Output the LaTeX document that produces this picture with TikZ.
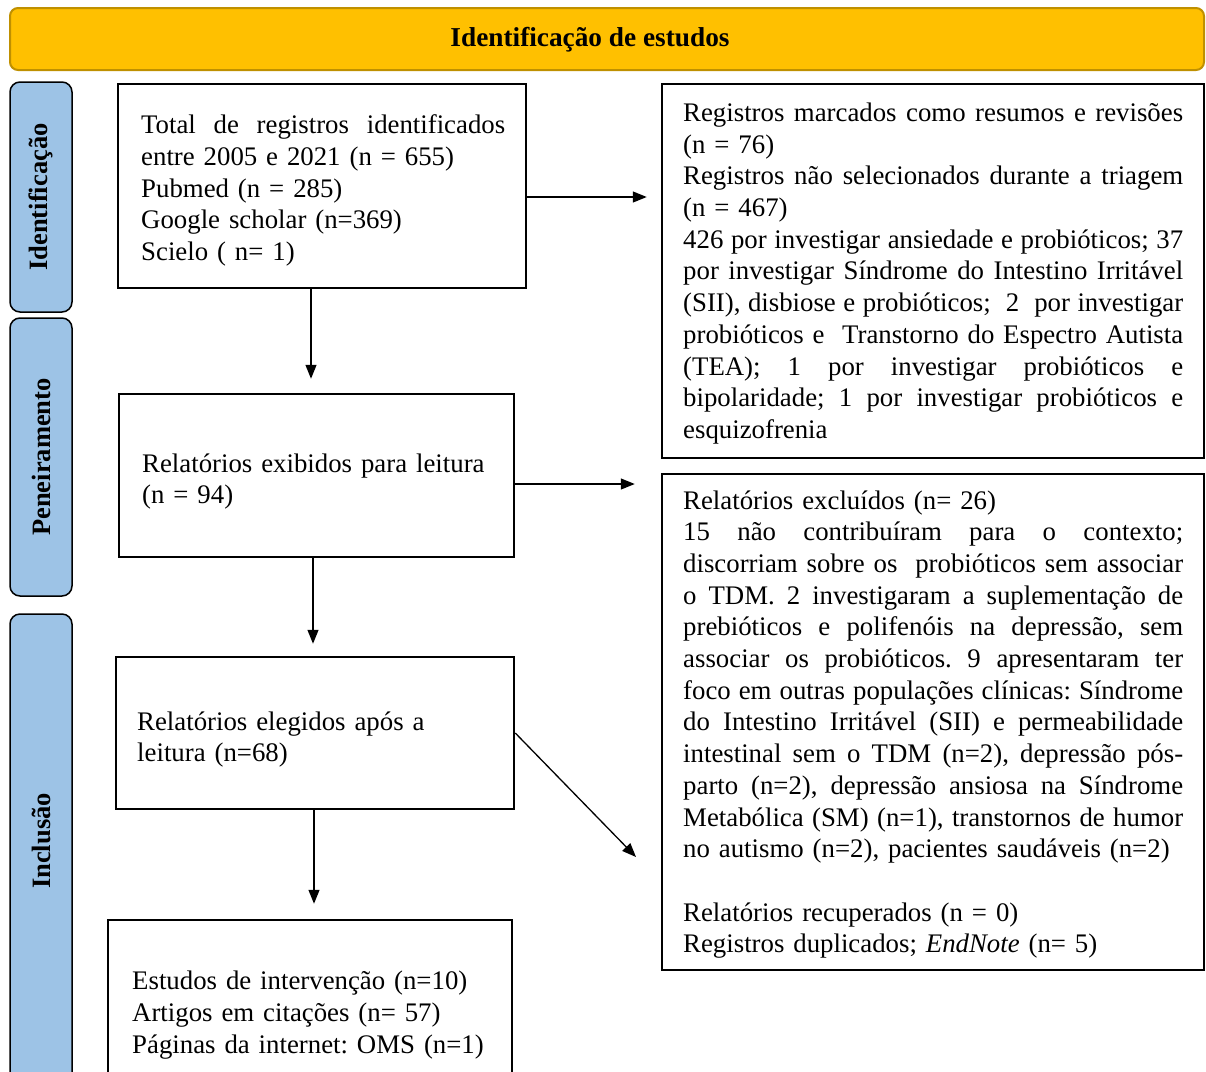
\documentclass[tikz,border=0pt]{standalone}
\usepackage{fontspec}
\setmainfont{Liberation Serif}
\usetikzlibrary{arrows.meta}
\definecolor{bannergold}{RGB}{255,192,0}
\definecolor{bannerdark}{RGB}{191,144,0}
\definecolor{sideblue}{RGB}{157,195,230}
\newcommand\txtsize{\fontsize{26.8}{31.7}\selectfont}
\newcommand\jline[2]{\leavevmode\hbox to #1{\spaceskip=0.25em plus 1fil\xspaceskip=0.25em plus 1fil\relax #2}}
\newcommand\nline[1]{\mbox{#1}}
\frenchspacing
\begin{document}
\begin{tikzpicture}[x=1pt,y=-1pt,
  flowbox/.style={draw, line width=2.5pt, rectangle, inner sep=0pt},
  boxtext/.style={anchor=west, align=left, inner sep=0pt, font=\txtsize},
  sidebox/.style={draw, line width=1.5pt, fill=sideblue, rounded corners=10pt, rotate=90,
     minimum height=62pt, inner sep=0pt, font=\bfseries\fontsize{26.5}{30}\selectfont},
  arr/.style={line width=1.3pt, -{Triangle[length=14pt,width=11pt]}}]
\useasboundingbox (0,0) rectangle (1206,1071);
\clip (0,0) rectangle (1206,1071);

% banner
\node[draw=bannerdark, fill=bannergold, line width=2pt, rounded corners=8pt,
  minimum width=1194pt, minimum height=62pt, inner sep=0pt] (banner) at (607,39) {};
\node[inner sep=0pt, font=\bfseries\fontsize{27.3}{30}\selectfont] (bannert) at (590,40) {Identificação de estudos};

% side labels
\node[sidebox, minimum width=230pt] (lab1) at (41,197) {Identificação};
\node[sidebox, minimum width=278pt] (lab2) at (41,457) {Peneiramento};
\node[sidebox, minimum width=480pt] (lab3) at (41,854) {};
\node[rotate=90, inner sep=0pt, font=\bfseries\fontsize{26.5}{30}\selectfont] (lab3t) at (41,841) {Inclusão};

% left column boxes
\node[flowbox, minimum width=408pt, minimum height=204pt] (box1) at (322,186) {};
\node[flowbox, minimum width=395pt, minimum height=163pt] (box2) at (316.5,475.5) {};
\node[flowbox, minimum width=398pt, minimum height=152pt] (box3) at (315,733) {};
\node[flowbox, minimum width=404pt, minimum height=184pt] (box4) at (310,1012) {};
% right column boxes
\node[flowbox, minimum width=542pt, minimum height=374pt] (rb1) at (933,271) {};
\node[flowbox, minimum width=542pt, minimum height=496pt] (rb2) at (933,722) {};

% texts
\node[boxtext, text width=364pt] (box1t) at (141,190.5) {%
\jline{364pt}{Total de registros identificados}\\
\nline{entre 2005 e 2021 (n = 655)}\\
\nline{Pubmed (n = 285)}\\
\nline{Google scholar (n=369)}\\
\nline{Scielo ( n= 1)}};

\node[boxtext, text width=350pt] (box2t) at (142,481.5) {%
\nline{Relatórios exibidos para leitura}\\
\nline{(n = 94)}};

\node[boxtext, text width=350pt] (box3t) at (137,739.5) {%
\nline{Relatórios elegidos após a}\\
\nline{leitura (n=68)}};

\node[boxtext, text width=360pt] (box4t) at (132,1015) {%
\nline{Estudos de intervenção (n=10)}\\
\nline{Artigos em citações (n= 57)}\\
\nline{Páginas da internet: OMS (n=1)}};

\node[boxtext, text width=500pt] (rb1t) at (683,273.5) {%
\jline{500pt}{Registros marcados como resumos e revisões}\\
\nline{(n = 76)}\\
\jline{500pt}{Registros não selecionados durante a triagem}\\
\nline{(n = 467)}\\
\jline{500pt}{426 por investigar ansiedade e probióticos; 37}\\
\jline{500pt}{por investigar Síndrome do Intestino Irritável}\\
\jline{500pt}{(SII), disbiose e probióticos;\ \ 2\ \ por investigar}\\
\jline{500pt}{probióticos e\ \ Transtorno do Espectro Autista}\\
\jline{500pt}{(TEA); 1 por investigar probióticos e}\\
\jline{500pt}{bipolaridade; 1 por investigar probióticos e}\\
\nline{esquizofrenia}};

\node[boxtext, text width=500pt] (rb2t) at (683,724.5) {%
\nline{Relatórios excluídos (n= 26)}\\
\jline{500pt}{15 não contribuíram para o contexto;}\\
\jline{500pt}{discorriam sobre os\ \ probióticos sem associar}\\
\jline{500pt}{o TDM. 2 investigaram a suplementação de}\\
\jline{500pt}{prebióticos e polifenóis na depressão, sem}\\
\jline{500pt}{associar os probióticos. 9 apresentaram ter}\\
\jline{500pt}{foco em outras populações clínicas: Síndrome}\\
\jline{500pt}{do Intestino Irritável (SII) e permeabilidade}\\
\jline{500pt}{intestinal sem o TDM (n=2), depressão pós-}\\
\jline{500pt}{parto (n=2), depressão ansiosa na Síndrome}\\
\jline{500pt}{Metabólica (SM) (n=1), transtornos de humor}\\
\nline{no autismo (n=2), pacientes saudáveis (n=2)}\\[31.7pt]
\nline{Relatórios recuperados (n = 0)}\\
\nline{Registros duplicados; \textit{EndNote} (n= 5)}};

% helper coordinates
\coordinate (y1) at (0,197);
\coordinate (y2) at (0,484);
\coordinate (x1) at (311,0);
\coordinate (x2) at (313,0);
\coordinate (x3) at (314,0);
\coordinate (e3) at (636,857);

% connectors
\draw[arr, shorten >=14pt] (box1.east |- y1) -- (rb1.west |- y1);
\draw[arr, shorten >=26pt] (box2.east |- y2) -- (rb2.west |- y2);
\draw[arr] (box3.east) -- (e3);
\draw[arr, shorten >=14pt] (box1.south -| x1) -- (box2.north -| x1);
\draw[arr, shorten >=12pt] (box2.south -| x2) -- (box3.north -| x2);
\draw[arr, shorten >=15pt] (box3.south -| x3) -- (box4.north -| x3);
\end{tikzpicture}
\end{document}
